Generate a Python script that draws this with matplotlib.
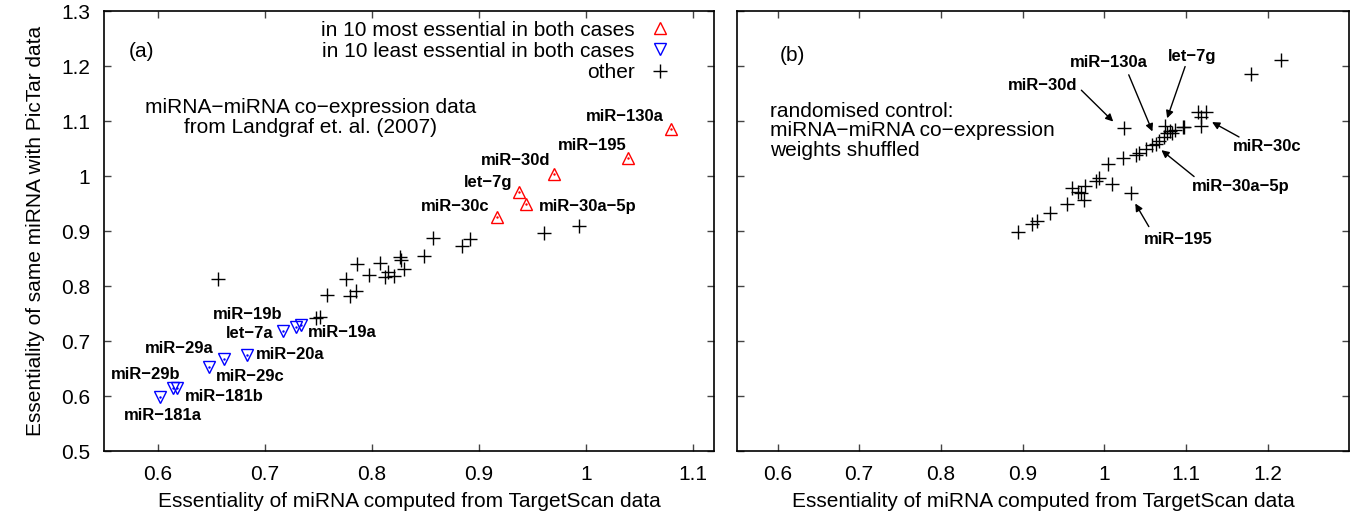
import matplotlib
matplotlib.use("Agg")
import matplotlib.pyplot as plt

plt.rcParams['font.family'] = ['Liberation Sans', 'DejaVu Sans']

# ---------------- data: panel (a) ----------------
red_names = ["miR−130a", "miR−195", "miR−30d", "let−7g", "miR−30a−5p", "miR−30c"]
red_x = [1.080, 1.040, 0.970, 0.938, 0.944, 0.917]
red_y = [1.086, 1.033, 1.004, 0.971, 0.950, 0.925]

blue_names = ["miR−181a", "miR−29b", "miR−181b", "miR−29c", "miR−29a",
              "miR−20a", "let−7a", "miR−19b", "miR−19a"]
blue_x = [0.602, 0.614, 0.618, 0.648, 0.662, 0.683, 0.717, 0.729, 0.734]
blue_y = [0.598, 0.615, 0.615, 0.652, 0.667, 0.675, 0.719, 0.726, 0.729]

other_x = [0.656, 0.748, 0.752, 0.758, 0.780, 0.785, 0.776, 0.786, 0.797, 0.808, 0.812,
           0.815, 0.821, 0.826, 0.827, 0.830, 0.849, 0.857, 0.884, 0.892, 0.961, 0.994]
other_y = [0.813, 0.742, 0.744, 0.784, 0.782, 0.791, 0.813, 0.840, 0.820, 0.842, 0.816,
           0.826, 0.819, 0.852, 0.847, 0.831, 0.855, 0.888, 0.873, 0.885, 0.896, 0.909]

# label placement for panel (a): (text x, text y, alignment)
red_label_pos = [(1.073, 1.108, "right"), (1.038, 1.056, "right"), (0.967, 1.029, "right"),
                 (0.931, 0.988, "right"), (0.956, 0.944, "left"), (0.910, 0.944, "right")]
blue_label_pos = [(0.6045, 0.564, "center"), (0.621, 0.640, "right"), (0.625, 0.599, "left"),
                  (0.654, 0.635, "left"), (0.652, 0.687, "right"), (0.692, 0.676, "left"),
                  (0.708, 0.713, "right"), (0.717, 0.749, "right"), (0.740, 0.715, "left")]

# ---------------- data: panel (b) ----------------
rand_x = [1.217, 1.180, 1.115, 1.124, 1.118, 1.118, 1.024, 1.096, 1.087, 1.081, 1.074,
          1.077, 1.083, 1.073, 1.067, 1.063, 1.058, 1.051, 1.042, 1.039, 1.023, 1.004,
          0.993, 0.990, 1.010, 1.033, 0.961, 0.976, 0.968, 0.972, 0.975, 0.954, 0.933,
          0.918, 0.911, 0.894, 1.098]
rand_y = [1.211, 1.185, 1.117, 1.117, 1.107, 1.091, 1.087, 1.090, 1.084, 1.081, 1.091,
          1.078, 1.078, 1.071, 1.064, 1.059, 1.056, 1.049, 1.042, 1.038, 1.033, 1.022,
          0.996, 0.991, 0.985, 0.969, 0.978, 0.982, 0.971, 0.969, 0.956, 0.950, 0.933,
          0.919, 0.913, 0.899, 1.089]

# annotations for panel (b): name, text pos, arrow tail, arrow head
rand_labels = ["miR−30d", "miR−130a", "let−7g", "miR−30c", "miR−30a−5p", "miR−195"]
rand_text = [(0.924, 1.165), (1.005, 1.206), (1.107, 1.217), (1.200, 1.053), (1.167, 0.981), (1.090, 0.884)]
rand_tail = [(0.972, 1.156), (1.030, 1.184), (1.099, 1.199), (1.165, 1.071), (1.110, 0.999), (1.0546, 0.908)]
rand_head = [(1.011, 1.099), (1.059, 1.081), (1.077, 1.105), (1.132, 1.098), (1.070, 1.047), (1.038, 0.950)]

xticks_a = [0.6, 0.7, 0.8, 0.9, 1.0, 1.1]
xticks_b = [0.6, 0.7, 0.8, 0.9, 1.0, 1.1, 1.2]
yticks = [0.5, 0.6, 0.7, 0.8, 0.9, 1.0, 1.1, 1.2, 1.3]

def fmt(v):
    return f"{v:g}"

# ---------------- figure ----------------
fig = plt.figure(figsize=(13.69, 5.19), dpi=100)
ax1 = fig.add_axes([0.0762, 0.1310, 0.4454, 0.8478])
ax2 = fig.add_axes([0.5381, 0.1310, 0.4475, 0.8478])

FS = 15
LFS = 12
MS = 9

for ax in (ax1, ax2):
    ax.tick_params(direction='in', top=True, right=True, length=5, width=1,
                   color='#444444', pad=10, labelsize=FS)
    for sp in ax.spines.values():
        sp.set_linewidth(1.2)
        sp.set_color('black')
    ax.set_ylim(0.5, 1.3)
    ax.set_yticks(yticks)
    ax.set_yticklabels([fmt(v) for v in yticks])
    ax.set_xlabel("Essentiality of miRNA computed from TargetScan data", fontsize=FS, labelpad=6)

ax1.set_xlim(0.55, 1.12)
ax1.set_xticks(xticks_a)
ax1.set_xticklabels([fmt(v) for v in xticks_a])
ax2.set_xlim(0.55, 1.30)
ax2.set_xticks(xticks_b)
ax2.set_xticklabels([fmt(v) for v in xticks_b])
ax2.tick_params(labelleft=False)

ax1.set_ylabel("Essentiality of same miRNA with PicTar data", fontsize=FS, labelpad=12)

# panel (a) points
ax1.plot(red_x, red_y, linestyle='none', marker='^', mfc='none', mec='red', ms=MS, mew=1,
         label="in 10 most essential in both cases")
ax1.plot(blue_x, blue_y, linestyle='none', marker='v', mfc='none', mec='blue', ms=MS, mew=1,
         label="in 10 least essential in both cases")
ax1.plot(other_x, other_y, linestyle='none', marker='+', color='black', ms=MS + 1, mew=1,
         label="other")
# tiny centre dots of the gnuplot triangles
ax1.plot(red_x, red_y, linestyle='none', marker='.', color='red', ms=1.5)
ax1.plot(blue_x, blue_y, linestyle='none', marker='.', color='blue', ms=1.5)

for name, (tx, ty, ha) in zip(red_names, red_label_pos):
    ax1.text(tx, ty, name, fontsize=LFS, fontweight='bold', ha=ha, va='center')
for name, (tx, ty, ha) in zip(blue_names, blue_label_pos):
    ax1.text(tx, ty, name, fontsize=LFS, fontweight='bold', ha=ha, va='center')

handles, labels = ax1.get_legend_handles_labels()
leg = ax1.legend(handles[:3], labels[:3], loc='upper right', bbox_to_anchor=(0.928, 0.978),
                 markerfirst=False, frameon=False, fontsize=FS, handlelength=1.0,
                 handletextpad=0.7, labelspacing=0.1, borderpad=0, borderaxespad=0)

ax1.text(0.585, 1.226, "(a)", fontsize=FS, ha='center', va='center')
ax1.text(0.743, 1.106, "miRNA−miRNA co−expression data\nfrom Landgraf et. al. (2007)",
         fontsize=FS, ha='center', va='center', linespacing=1.05)

# panel (b)
ax2.plot(rand_x, rand_y, linestyle='none', marker='+', color='black', ms=MS + 1, mew=1)
for name, t, a, h in zip(rand_labels, rand_text, rand_tail, rand_head):
    ax2.text(t[0], t[1], name, fontsize=LFS, fontweight='bold', ha='center', va='center')
    ax2.annotate('', xy=h, xytext=a,
                 arrowprops=dict(arrowstyle='-|>', color='black', lw=1,
                                 mutation_scale=11, shrinkA=0, shrinkB=0))

ax2.text(0.618, 1.220, "(b)", fontsize=FS, ha='center', va='center')
ax2.text(0.591, 1.082, "randomised control:\nmiRNA−miRNA co−expression\nweights shuffled",
         fontsize=FS, ha='left', va='center', linespacing=1.05)

fig.savefig("out.png", dpi=100)
